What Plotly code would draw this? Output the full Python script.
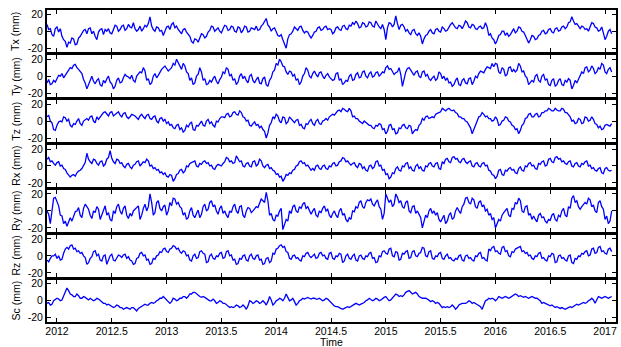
import plotly.graph_objects as go

# Sampling epochs: regular, every 1/66 year, starting just before 2012
n_samples = 341
time = [2012 + (k - 6) / 66 for k in range(n_samples)]

tx = [8, 2, 3, -4, -6, 3, 5, -1, 3, -6, -10, -12, -19, -13, -14, -8, -9, -16, -15, -8, -6, -3, 1, 2, -3, 3, 4, -3, 0, -6, -10, -1, 2, 3, -4, 2, 0, 3, -2, -3,
      3, 7, 6, 0, 2, 6, 7, 1, 3, 8, 5, 4, 10, 3, 0, 2, 6, 0, 3, 7, 5, 9, 17, 6, 2, 0, 5, 4, 0, 1, -5, -1, 5, 6, 2, 8, 10, 4, 6, 2,
      0, -3, 2, 3, -1, -4, -6, -12, -14, -9, -10, -13, -8, -3, -4, -8, -6, -1, 1, 6, 5, 0, 2, 4, 0, -2, 3, 7, 6, 1, 2, 6, 5, 0, -1, 5, 4, -2, 1, 6,
      5, -1, 0, 4, 3, 2, 6, 1, 2, 6, 8, 12, 15, 7, 5, 0, 3, 4, 0, -5, -6, -4, -10, -15, -20, -9, -4, -3, 0, 5, 3, 1, 5, 6, 1, -2, 0, -1, -5, -8,
      -5, -1, 0, 4, 5, 1, 2, 5, 6, 2, 3, 2, -3, -1, 4, 5, 2, 1, 6, 7, 3, 2, 7, 6, 10, 8, 12, 9, 4, 5, 10, 9, 5, 6, 11, 10, 6, 5, 12, 8,
      5, 3, 8, 2, -10, 4, 10, 9, 5, 8, 18, 9, 2, 7, 8, 5, 0, 2, -2, -4, 1, 2, -3, -5, -2, -6, -15, -9, -5, -4, 0, 2, -2, -3, 2, 3, 0, -1, 5, 3,
      0, 1, 5, 8, 10, 6, 4, 3, 7, 6, 3, 7, 12, 10, 5, 4, 8, 7, 3, 2, 5, 6, 3, 4, 10, 5, -5, -3, -8, -10, -15, -11, -5, -4, 0, 0, -5, -2, -6, -4,
      0, 3, -2, 0, 5, 4, 0, -1, -5, -9, -14, -10, -5, -6, -10, -9, -5, -4, 0, 1, -3, -2, 2, 3, -1, -2, 3, 4, 0, 1, 5, 6, 3, 5, 10, 11, 17, 12, 8, 9,
      5, 3, 6, 5, 2, 3, 0, 4, 10, 9, 5, 4, 0, 1, 5, -2, -10, -6, 0, 2, -3]

ty = [-8, -4, -10, -9, -5, -7, -3, 1, 0, 3, -2, 1, 5, 8, 10, 9, 13, 14, 10, 8, 5, 3, -4, -8, -15, -10, -3, 0, -6, -9, -5, -3, -10, -12, -5, -8, -3, 0, -7, -9,
      -15, -12, -5, -2, -8, -7, -2, 2, 0, -1, -3, 1, -5, -7, 0, 3, 5, 4, 10, 6, -5, -3, -10, -8, 0, 3, -2, 1, 5, 8, 10, 12, 9, 6, 8, 10, 15, 13, 20, 16,
      10, 8, 15, 12, 5, 3, -5, -2, -10, -8, 0, 2, 10, 5, -5, -3, -10, -9, -5, -7, -3, 0, -6, -9, -4, -1, 5, 3, 10, 8, 0, 2, -5, -3, -10, -7, 0, 3, -3, 0,
      -5, -8, 0, 2, -5, -8, -4, -1, -8, -9, -3, -1, -10, -12, -5, -2, 5, 7, 15, 13, 20, 17, 12, 11, 5, 2, 6, 5, 0, 2, -5, -3, -10, -7, 0, 3, 10, 7, 0, -2,
      3, 6, 2, -1, 4, 5, 0, -3, 1, 3, -1, -3, -5, -4, 3, 4, -5, -3, -10, -8, -5, -6, 0, 2, -5, -4, 2, 4, -2, -1, 5, 6, 0, -2, 3, 5, -1, 0, 4, 5,
      0, 2, 5, 4, 10, 12, 8, 9, 5, 2, 4, 5, 10, 2, -12, -4, 5, 9, 10, 7, 3, 1, 5, 6, 0, -2, 5, 6, 0, 2, -3, -5, -2, 0, -5, -3, 5, 3, -3, 0,
      -5, -2, -8, -7, -12, -10, -5, -2, -10, -11, -5, -3, -8, -9, -3, -2, -10, -6, 0, -2, 3, 6, 5, 4, 8, 11, 10, 9, 15, 11, 15, 14, 5, 3, 10, 8, 0, 2, 10, 11,
      5, 8, 5, 7, 15, 12, 5, 6, 0, -2, -10, -8, -5, -7, 0, 2, -5, -7, 0, 2, -5, -3, -10, -11, -5, -3, -12, -10, -5, -3, -10, -11, -5, -7, -3, -5, -15, -11, -5, -8,
      -3, 1, 5, 3, 10, 11, 5, 7, 12, 9, 3, 5, 10, 8, 15, 13, 5, 3, 8, 10, 5]

tz = [5, 7, 0, -2, -10, -11, -5, -1, 0, -1, 5, 4, 0, 2, -5, -7, -3, -4, 0, 3, -3, -5, 0, 2, 3, 1, 5, 6, 0, -2, 5, 2, 5, 8, 10, 11, 8, 6, 10, 11,
      6, 8, 10, 11, 7, 5, 9, 10, 5, 3, 5, 8, 7, 6, 4, 2, 6, 8, 5, 3, 7, 8, 3, 2, 5, 6, 0, -2, 3, 4, 0, 2, -3, -1, -5, -4, -8, -9, -5, -4,
      -10, -8, -13, -11, -5, -7, -3, -1, -10, -11, -5, -6, -3, 0, -5, -6, 0, 2, -3, -1, -5, -7, 0, -1, 3, 5, 5, 4, 8, 9, 5, 6, 10, 11, 8, 7, 12, 10, 5, 4,
      0, 1, -5, -6, -3, -1, -5, -4, -8, -6, -10, -12, -20, -14, -5, -2, 5, 3, 8, 6, 0, -2, 5, 4, -3, -1, 5, 3, 0, -2, 1, 2, -5, -4, -8, -9, -3, -4, 0, 2,
      -3, -5, 0, 2, -3, -4, 0, 1, 3, 1, 5, 7, 8, 7, 10, 12, 13, 11, 15, 14, 12, 11, 15, 12, 5, 6, 3, 3, 0, -2, -3, 0, -2, -4, -5, -5, -8, -9, -5, -6,
      -3, -4, -10, -9, -15, -12, -5, -4, -10, -9, -15, -14, -8, -9, -5, -4, -8, -9, -5, -6, -15, -12, -10, -11, -5, -3, 3, 1, 5, 6, 3, 4, 5, 4, 8, 9, 10, 11, 15, 13,
      12, 14, 15, 13, 12, 13, 10, 9, 5, 5, 3, 3, 0, -1, -5, -8, -15, -10, -5, -1, 5, 6, 10, 8, 5, 6, 3, 3, 0, 1, 5, 2, -5, -4, 0, 1, 5, 4, 0, -1,
      -5, -6, -10, -9, -15, -11, -5, -3, 3, 4, 8, 9, 5, 5, 8, 9, 5, 6, 10, 10, 12, 12, 15, 14, 12, 12, 15, 13, 12, 12, 15, 14, 10, 10, 8, 5, 0, 1, -3, -2,
      3, 2, -3, -2, 5, 4, 0, 1, 5, 2, -3, -4, -8, -6, -10, -9, -5, -4, -5, -6, -3]

rx = [8, 10, 5, 6, 3, 1, 4, 5, 0, 1, -3, -4, -8, -10, -13, -11, -10, -12, -8, -6, -5, -3, 0, 4, 15, 8, 5, 3, 8, 7, 3, 1, 5, 6, 0, 2, 8, 10, 18, 9,
      5, 3, 8, 7, 3, 4, 0, -2, 2, 3, -1, -3, 1, 2, 5, 6, 0, 2, 5, 4, 8, 6, 0, 1, -3, -2, -5, -4, -8, -7, -10, -8, -12, -13, -10, -11, -18, -15, -10, -9,
      -5, -4, -8, -6, 0, -1, 3, 4, 5, 6, 0, -1, 3, 2, 5, 6, 3, 4, 0, 1, -3, -4, 0, 2, 1, 0, 3, 5, 10, 9, 5, 6, 3, 4, 12, 9, 5, 6, 0, -1,
      3, 4, 0, -1, 5, 6, 0, 2, 8, 6, 0, -2, 1, 2, -3, -2, -5, -6, -10, -9, -13, -12, -18, -15, -10, -11, -8, -9, -5, -4, 0, 1, 5, 6, 3, 4, 0, 1, -3, -5,
      -3, -5, 0, 1, -3, -4, 0, 1, -3, -4, 0, -1, 3, 4, 0, 1, 5, 6, 10, 9, 5, 6, 3, 1, 3, 4, 0, -2, 3, 2, -3, -1, -5, -6, 0, 1, -3, -1, 5, 6,
      0, 1, -5, -4, -10, -9, -15, -13, -8, -9, -3, -1, -5, -6, 0, -1, 3, 4, -3, -1, -5, -6, 0, 2, -3, -1, -5, -6, 0, -1, 3, 4, 0, -1, 3, 4, -3, -4, 5, 3,
      8, 9, 5, 4, 10, 11, 8, 9, 5, 4, 8, 9, 5, 3, 5, 6, 0, -1, 3, 4, 0, -1, 3, 4, 0, 1, -5, -6, -10, -11, -15, -12, -5, -4, -10, -11, -5, -6, -3, -2,
      -5, -4, -8, -9, -3, -1, -5, -6, 0, -1, 3, 4, 0, 1, -3, -4, 3, 2, 5, 6, 0, 1, 8, 9, 5, 4, 10, 11, 8, 9, 5, 6, 3, 2, 5, 6, 0, -1, 3, 4,
      0, -1, 3, 2, 5, 6, 0, 1, -3, -2, -5, -6, -3, -2, -8, -9, -3, -2, -5, -6, -5]

ry = [0, -4, -15, 2, 15, 16, 10, 6, -5, -6, -15, -12, -18, -14, -8, -12, -5, -1, 0, 4, -5, -8, 3, 8, 5, 2, -5, -9, 0, -2, 5, 2, -10, -4, 0, 6, -5, -2, -10, -12,
      0, -3, 5, 8, 0, -4, 3, 6, -5, -9, -3, -6, 0, 2, 5, 6, -10, -5, 3, 8, 0, 5, 20, 10, -5, -2, 10, 12, 3, 0, 5, 7, -5, 0, 10, 6, 15, 14, 8, 10,
      5, 3, -5, -2, -10, -8, 0, 4, -5, -8, -3, 1, -8, -4, 5, 8, 0, 2, 10, 12, 5, 7, 0, -4, 3, 6, -3, 0, -5, -8, 0, -2, 5, 8, 0, -3, 5, 6, -5, -8,
      0, 4, 3, -2, 0, 3, 5, 4, 10, 14, 12, 10, 22, 12, -5, -3, -10, -12, -5, -6, 0, 3, -22, -15, -10, -12, 0, -3, 5, 7, 0, -2, 5, 3, 8, 10, 3, 5, 0, -4,
      0, 3, -5, -7, 0, -2, 3, 6, 0, 2, -5, -8, -3, 0, -5, -8, 0, 3, -5, -3, -10, -13, -8, -10, 0, -1, 5, 3, 10, 12, 5, 3, 10, 13, 12, 14, 8, 6, 10, 13,
      5, 2, -10, -3, 20, 14, 10, 13, 5, 8, 20, 16, 10, 12, 5, 3, 10, 12, 0, -2, 5, 6, -3, 0, -5, -8, -20, -12, -5, -8, 0, 3, -3, 0, -5, -2, -10, -13, -8, -5,
      -15, -12, -5, -2, -10, -8, 0, 4, 0, -3, 5, 8, 15, 16, 10, 8, 15, 13, 5, 3, 10, 12, 5, 7, 0, 2, -5, -3, -10, -8, -20, -16, -10, -12, -5, -2, 0, 3, -5, -7,
      3, 2, 10, 8, 15, 12, 0, -2, 5, 6, -5, -3, -10, -6, -10, -13, -5, -3, -8, -7, -12, -14, -10, -11, -5, -3, -10, -12, -5, -7, 0, 3, -5, -7, 5, 3, 15, 18, 10, 12,
      5, 2, 5, 7, 10, 8, 15, 13, 5, 7, 0, -2, 10, 12, 5, 2, -10, -6, -15, -12, 0]

rz = [-5, -7, -3, 0, 0, 2, -3, 0, -5, -4, 3, 8, 10, 8, 12, 13, 8, 9, 5, 6, 3, 4, 0, -2, -10, -8, -3, -1, 5, 6, 0, 2, -5, -6, 0, 1, -10, -4, 0, 2,
      -5, -6, -3, 1, 0, -2, 1, 2, -3, -1, -5, -6, -10, -9, -3, -2, 3, 4, 0, 1, -5, -4, -10, -9, -3, -4, 0, 1, 5, 4, 8, 9, 5, 4, 8, 9, 12, 11, 8, 9,
      5, 3, 6, 5, 0, 1, -5, -6, 0, 2, -3, -2, 5, 6, 3, 2, -8, -7, 0, 2, -3, -4, 0, -1, 3, 4, -3, -2, 5, 6, 0, 1, -5, -4, -10, -9, -3, -4, 0, 1,
      -5, -6, 0, 2, -3, -4, 0, 1, -5, -4, -10, -9, -3, -2, -8, -6, 3, 2, 8, 9, 12, 13, 10, 11, 5, 4, -3, -4, 0, 1, -3, -2, -5, -6, 0, -1, 3, 4, 0, -2,
      0, 2, -3, -2, 3, 4, 0, 1, -3, -4, 3, 4, -3, -4, 0, -1, 3, 2, -8, -6, 0, 2, -3, -4, 0, 2, -5, -6, 0, 1, -3, -4, 0, -1, 3, 4, -3, -2, -8, -7,
      0, -1, 5, 6, 3, 2, 8, 9, 0, -1, 5, 4, -5, -4, 3, 2, 5, 6, -3, -2, 5, 6, 0, -1, 3, 4, 10, 9, 0, -1, 5, 6, -3, -4, 0, -1, 3, 4, -3, -4,
      0, 2, -3, -2, -5, -6, -3, -4, 0, 1, -5, -6, 0, 1, -3, -2, -5, -6, 0, -1, 3, 4, -3, -2, -5, -6, 8, 6, 10, 11, 5, 6, 3, 2, 10, 11, 5, 6, 0, -1,
      5, 4, 8, 9, 10, 11, 5, 6, 3, 4, 0, 1, -3, -4, 0, -1, 3, 4, -3, -2, -5, -6, 0, -1, 3, 2, -8, -7, 0, 1, -3, -2, -5, -6, 0, 1, -8, -9, -3, -4,
      0, -1, 3, 2, 5, 6, 0, 1, 8, 9, 3, 4, 10, 11, 5, 6, 3, 2, 8, 9, 5]

sc = [-3, -2, -5, -4, 0, 2, 3, 2, 0, 1, 5, 10, 15, 12, 8, 7, 5, 5, 8, 6, 3, 3, 5, 4, 2, 1, 3, 2, 0, 1, 3, 2, 0, -1, -3, -3, -5, -4, -5, -6,
      -8, -7, -5, -6, -8, -8, -10, -9, -8, -9, -10, -8, -8, -10, -12, -9, -8, -7, -5, -4, -5, -5, -3, -2, -3, -2, 0, 1, 3, 3, 5, 3, 0, -1, -3, -1, 3, 2, 0, 1,
      3, 3, 5, 5, 3, 5, 8, 8, 10, 10, 8, 7, 5, 4, 5, 4, 3, 2, 0, 0, 2, 0, -3, -2, 0, -1, -3, -3, -5, -6, -8, -7, -8, -7, -5, -6, -8, -7, -5, -7,
      -10, -6, 0, -1, -3, -2, 0, -1, -3, -2, 0, -2, -5, -1, 5, 1, -5, -3, 0, 1, 3, 2, 0, 3, 8, 4, 0, 1, 3, -1, -5, -3, 0, 1, 3, 2, 3, 4, 3, 2,
      3, 3, 2, 2, 3, 2, 0, 1, 3, 2, 0, -2, -5, -6, -7, -7, -8, -9, -10, -9, -8, -7, -8, -7, -5, -4, -3, -4, -5, -4, -3, -2, 0, 1, 3, 2, 0, 1, 3, 2,
      0, 1, 3, 4, 5, 3, 0, 1, 3, 5, 8, 7, 5, 6, 5, 7, 10, 11, 12, 10, 8, 9, 10, 8, 5, 4, 3, 3, 3, 2, 0, -1, 0, -1, -3, -2, -3, -5, -8, -7,
      -8, -7, -8, -7, -5, -7, -10, -8, -5, -4, -3, -3, -3, -2, 0, -1, -3, -2, -3, -4, -5, -7, -10, -5, 0, 1, 3, 2, 3, 2, 0, 2, 5, 4, 3, 4, 5, 4, 3, 4,
      5, 6, 8, 7, 5, 6, 5, 4, 5, 4, 3, 4, 5, 4, 3, 3, 2, 0, -3, -2, -3, -4, -5, -6, -5, -6, -8, -7, -8, -9, -8, -9, -10, -9, -8, -7, -8, -7, -5, -4,
      -5, -4, -3, -2, -3, -2, 0, 1, 3, 1, -3, 1, 5, 4, 3, 4, 5, 4, 3, 4, 5]

series_names = ["Tx (mm)", "Ty (mm)", "Tz (mm)", "Rx (mm)", "Ry (mm)", "Rz (mm)", "Sc (mm)"]
series_values = [tx, ty, tz, rx, ry, rz, sc]

x_tick_vals = [2012, 2012.5, 2013, 2013.5, 2014, 2014.5, 2015, 2015.5, 2016, 2016.5, 2017]
x_tick_text = ["2012", "2012.5", "2013", "2013.5", "2014", "2014.5", "2015", "2015.5", "2016", "2016.5", "2017"]
y_tick_vals = [-20, 0, 20]
y_tick_text = ["-20", "0", "20"]
x_title = "Time"

FONT = "Liberation Sans, Arial, Helvetica, sans-serif"

W, H = 621, 347
M_L, M_R, M_T, M_B = 47, 3, 10, 25
plot_h = H - M_T - M_B
n = len(series_values)
gap_px = 2.5
panel_px = (plot_h - gap_px * (n - 1)) / n

fig = go.Figure()
layout = dict(
    width=W, height=H,
    margin=dict(l=M_L, r=M_R, t=M_T, b=M_B),
    paper_bgcolor="white", plot_bgcolor="white",
    showlegend=False,
    font=dict(family=FONT, size=10.5, color="black"),
)

annotations = []
for i, (name, vals) in enumerate(zip(series_names, series_values)):
    idx = "" if i == 0 else str(i + 1)
    xa = "x" + idx
    ya = "y" + idx
    fig.add_trace(go.Scatter(x=time[:len(vals)], y=vals, mode="lines",
                             line=dict(color="#0000ff", width=1.3),
                             xaxis=xa, yaxis=ya, hoverinfo="skip"))
    top = 1 - (i * (panel_px + gap_px)) / plot_h
    bot = top - panel_px / plot_h
    last = i == n - 1
    layout["xaxis" + idx] = dict(
        domain=[0, 1], anchor=ya, range=[2011.909, 2017.1],
        tickvals=x_tick_vals, ticktext=x_tick_text, showticklabels=last,
        ticks="inside", ticklen=4, tickwidth=1, tickcolor="black",
        showline=True, linecolor="black", linewidth=2, mirror="ticks",
        showgrid=False, zeroline=False, ticklabelstandoff=-2,
        tickfont=dict(family=FONT, size=10.5, color="black"),
    )
    layout["yaxis" + idx] = dict(
        domain=[max(bot, 0), min(top, 1)], anchor=xa, range=[-25, 25],
        tickvals=y_tick_vals, ticktext=y_tick_text,
        ticks="inside", ticklen=4, tickwidth=1, tickcolor="black",
        showline=True, linecolor="black", linewidth=2, mirror="ticks",
        showgrid=False, zeroline=False,
        tickfont=dict(family=FONT, size=10.5, color="black"),
    )
    annotations.append(dict(
        text=name, xref="paper", yref="paper", x=-0.055, y=(top + bot) / 2,
        xanchor="center", yanchor="middle", textangle=-90, showarrow=False,
        font=dict(family=FONT, size=10.5, color="black"),
    ))

annotations.append(dict(
    text=x_title, xref="paper", yref="paper", x=0.5, y=-(341.5 - (H - M_B)) / plot_h,
    xanchor="center", yanchor="middle", showarrow=False, borderpad=0,
    font=dict(family=FONT, size=10.5, color="black"),
))

layout["annotations"] = annotations
fig.update_layout(**layout)
fig.write_html("out.html", config={"displayModeBar": False},
               post_script="document.body.style.margin='0';document.body.style.overflow='hidden';")
